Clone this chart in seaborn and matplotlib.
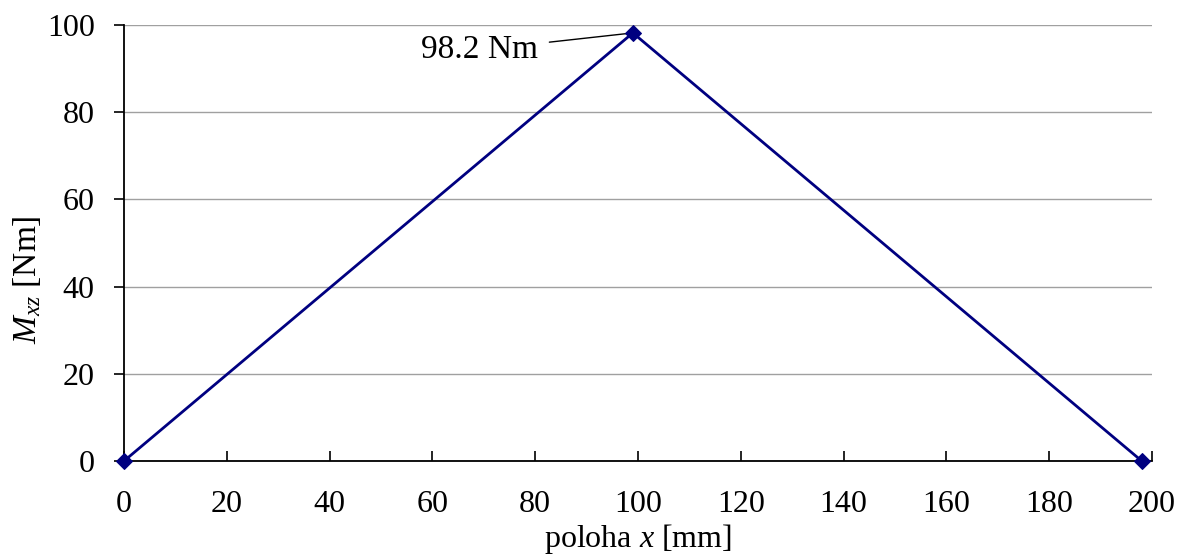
import matplotlib
matplotlib.use('Agg')
import matplotlib.pyplot as plt
import seaborn as sns
import pandas as pd

# data
poloha = [0, 99, 198]
moment = [0, 98.2, 0]
peak_label = '98.2 Nm'

df = pd.DataFrame({'x': poloha, 'M': moment})

sns.set_theme(style='white', rc={'text.color': 'black', 'axes.labelcolor': 'black',
                                 'xtick.color': 'black', 'ytick.color': 'black'})
plt.rcParams['font.family'] = ['Liberation Serif', 'DejaVu Serif']
plt.rcParams['mathtext.fontset'] = 'custom'
plt.rcParams['mathtext.rm'] = 'Liberation Serif'
plt.rcParams['mathtext.it'] = 'Liberation Serif:italic'

fig = plt.figure(figsize=(11.88, 5.57), dpi=100)
ax = fig.add_axes([0.1044, 0.1724, 0.8653, 0.7826])

sns.lineplot(data=df, x='x', y='M', ax=ax, color='#000080', linewidth=2,
             marker='D', markersize=8, markeredgecolor='#000080')
for ln in ax.lines:
    ln.set_clip_on(False)
    ln.set_zorder(5)

ax.set_xlim(0, 200)
ax.set_ylim(0, 100)
ax.set_xticks(range(0, 201, 20))
ax.set_yticks(range(0, 101, 20))

ax.yaxis.grid(True, color='#a0a0a0', linewidth=1)
ax.xaxis.grid(False)
ax.set_axisbelow(True)

for s in ['top', 'right']:
    ax.spines[s].set_visible(False)
for s in ['left', 'bottom']:
    ax.spines[s].set_color('black')
    ax.spines[s].set_linewidth(1.3)

ax.tick_params(axis='x', direction='in', length=7, width=1.2, color='black',
               labelsize=23, pad=21, bottom=True)
ax.tick_params(axis='y', direction='out', length=7, width=1.2, color='black',
               labelsize=23, pad=14, left=True)

ax.set_xlabel('poloha $x$ [mm]', fontsize=23, labelpad=2)
ax.set_ylabel('$M_{xz}$ [Nm]', fontsize=24)
ax.yaxis.set_label_coords(-0.094, 0.415)
ax.yaxis.label.set_va('center')

ax.annotate(peak_label, xy=(poloha[1], moment[1]), xytext=(80.5, 94.3),
            ha='right', va='center', fontsize=24,
            arrowprops=dict(arrowstyle='-', color='black', linewidth=1,
                            shrinkA=6, shrinkB=2))

fig.savefig('out.png', dpi=100)
